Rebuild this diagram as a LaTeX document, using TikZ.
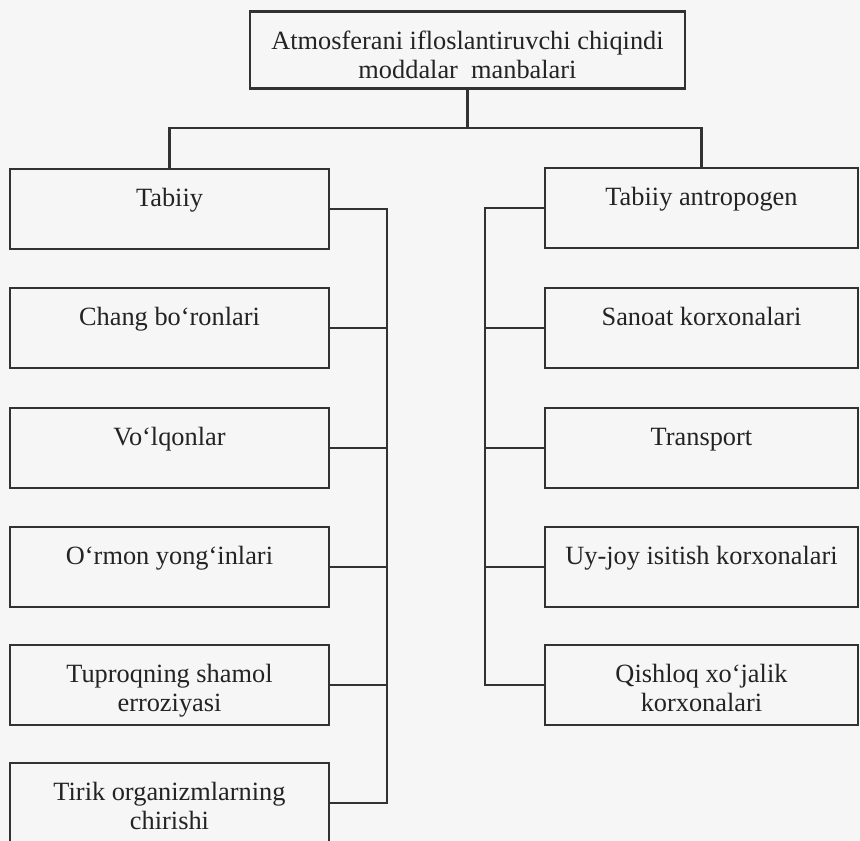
\documentclass[tikz,border=0pt]{standalone}
\usepackage{fontspec}
\setmainfont{Liberation Serif}
\usepackage{tikz}
\usetikzlibrary{positioning, calc}
\definecolor{inkline}{RGB}{50,50,50}
\definecolor{inktext}{RGB}{35,35,35}
\definecolor{paper}{RGB}{246,246,246}
\newcommand{\tgap}{\rule{0pt}{19pt}}

\begin{document}
\begin{tikzpicture}[x=0.02cm, y=-0.02cm,
    srcbox/.style={draw=inkline, line width=1.2pt, align=center, text=inktext,
        font=\fontsize{15}{16.5}\selectfont, minimum height=1.6cm, inner ysep=0pt},
    leftbox/.style={srcbox, minimum width=6.38cm},
    rightbox/.style={srcbox, minimum width=6.26cm},
    link/.style={draw=inkline, line width=1.2pt}]
    % Page
    \fill[paper] (0,0) rectangle (860,841);
    \useasboundingbox (0,0) rectangle (860,841);

    % Root
    \node[srcbox, minimum width=8.7cm, minimum height=1.54cm] (root) at (467.5,50)
        {\rule{0pt}{21pt}Atmosferani ifloslantiruvchi chiqindi\\moddalar~ manbalari\strut};

    % Two branches
    \node[leftbox] (tabiiy) at (169.5,209) {\tgap Tabiiy\\\strut};
    \node[rightbox] (antro) at (701.5,208) {\tgap Tabiiy antropogen\\\strut};

    % Natural sources
    \foreach \name/\y/\txt in {chang/328/{Chang bo‘ronlari\\\strut},
            volqon/448/{Vo‘lqonlar\\\strut},
            ormon/567/{O‘rmon yong‘inlari\\\strut},
            tuproq/685/{Tuproqning shamol\\erroziyasi\strut},
            tirik/803/{Tirik organizmlarning\\chirishi\strut}} {
        \node[leftbox] (\name) at (169.5,\y) {\tgap\txt};
    }

    % Man-made sources
    \foreach \name/\y/\txt in {sanoat/328/{Sanoat korxonalari\\\strut},
            transport/448/{Transport\\\strut},
            uyjoy/567/{Uy-joy isitish korxonalari\\\strut},
            qishloq/685/{Qishloq xo‘jalik\\korxonalari\strut}} {
        \node[rightbox] (\name) at (701.5,\y) {\tgap\txt};
    }

    % Tree
    \coordinate (bar) at (0,128);
    \coordinate (lspine) at (387,0);
    \coordinate (rspine) at (485,0);
    \draw[link] (root.south) -- (root.south |- bar);
    \draw[link] (tabiiy.north) |- (antro.north |- bar) -- (antro.north);

    % Spines
    \draw[link] (tabiiy.east) -- (tabiiy.east -| lspine) -- (tirik.east -| lspine) -- (tirik.east);
    \foreach \name in {chang, volqon, ormon, tuproq} {
        \draw[link] (\name.east) -- (\name.east -| lspine);
    }
    \draw[link] (antro.west) -- (antro.west -| rspine) -- (qishloq.west -| rspine) -- (qishloq.west);
    \foreach \name in {sanoat, transport, uyjoy} {
        \draw[link] (\name.west) -- (\name.west -| rspine);
    }

\end{tikzpicture}
\end{document}
